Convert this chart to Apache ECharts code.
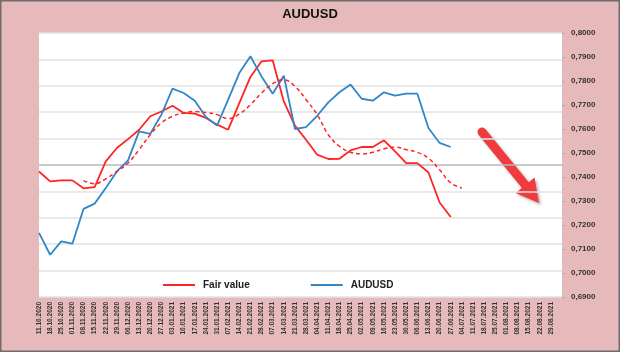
<!DOCTYPE html>
<html>
<head>
<meta charset="utf-8">
<title>AUDUSD</title>
<script src="https://cdn.jsdelivr.net/npm/echarts@6/dist/echarts.min.js"></script>
<style>
  html, body { margin: 0; padding: 0; }
  #main { width: 620px; height: 352px; }
</style>
</head>
<body>
<div id="main"></div>
<script>
// weekly dates
var dates = ['11.10.2020','18.10.2020','25.10.2020','01.11.2020','08.11.2020','15.11.2020','22.11.2020','29.11.2020',
  '06.12.2020','13.12.2020','20.12.2020','27.12.2020','03.01.2021','10.01.2021','17.01.2021','24.01.2021','31.01.2021',
  '07.02.2021','14.02.2021','21.02.2021','28.02.2021','07.03.2021','14.03.2021','21.03.2021','28.03.2021','04.04.2021',
  '11.04.2021','18.04.2021','25.04.2021','02.05.2021','09.05.2021','16.05.2021','23.05.2021','30.05.2021','06.06.2021',
  '13.06.2021','20.06.2021','27.06.2021','04.07.2021','11.07.2021','18.07.2021','25.07.2021','01.08.2021','08.08.2021',
  '15.08.2021','22.08.2021','29.08.2021'];

var fairValue = [0.7423,0.7382,0.7386,0.7386,0.7353,0.7358,0.7465,0.7521,0.7558,0.7597,0.7653,0.7673,0.7697,0.7667,
  0.7664,0.7646,0.7618,0.7597,0.7708,0.7817,0.7882,0.7886,0.7715,0.7614,0.7555,0.7493,0.7475,0.7476,0.7511,0.7525,
  0.7525,0.7553,0.7507,0.7458,0.7458,0.7419,0.7294,0.7233];

var audusd = [0.7167,0.7076,0.7132,0.7122,0.7267,0.7289,0.7354,0.7423,0.7469,0.7590,0.7580,0.7660,0.7768,0.7750,
  0.7718,0.7650,0.7614,0.7722,0.7833,0.7903,0.7819,0.7747,0.7822,0.7600,0.7608,0.7655,0.7711,0.7753,0.7785,0.7726,
  0.7718,0.7753,0.7739,0.7747,0.7747,0.7604,0.7542,0.7525];

// smoothed fair value (starts at 08.11.2020)
var fairTrend = [null,null,null,null,0.7385,0.7372,0.7392,0.7423,0.7458,0.7514,0.7576,0.7625,0.7653,0.7667,0.7673,
  0.7669,0.7660,0.7643,0.7662,0.7701,0.7750,0.7789,0.7805,0.7778,0.7722,0.7660,0.7576,0.7528,0.7503,0.7497,0.7503,
  0.7517,0.7525,0.7514,0.7503,0.7478,0.7430,0.7375,0.7354];

var yMin = 0.69, yMax = 0.80, yStep = 0.01;

var red = '#ff2424', blue = '#2f87c9';
var font = 'Liberation Sans';

// gridline colours, middle one darker
var gridColors = [];
for (var i = 0; i <= 10; i++) gridColors.push(i === 5 ? '#b9b9b9' : '#e2e2e2');

var chart = echarts.init(document.getElementById('main'));
chart.setOption({
  backgroundColor: '#e6b9bb',
  animation: false,
  title: {
    text: 'AUDUSD', left: 'center', top: 3,
    textStyle: { fontFamily: font, fontSize: 13, fontWeight: 'bold', color: '#111' }
  },
  grid: { left: 39, right: 58, top: 33, bottom: 55, show: true, backgroundColor: '#fff', borderWidth: 0 },
  legend: {
    data: ['Fair value', 'AUDUSD'],
    left: 163, top: 280, padding: 0, icon: 'rect', itemWidth: 32, itemHeight: 2, itemGap: 61,
    textStyle: { fontFamily: font, fontSize: 10, fontWeight: 'bold', color: '#222', padding: [0, 0, 0, 3] }
  },
  xAxis: {
    type: 'category', data: dates, boundaryGap: false, max: 47,
    axisLine: { show: false }, axisTick: { show: false },
    axisLabel: {
      interval: 0, rotate: 90, margin: 5,
      fontFamily: font, fontSize: 6.5, fontWeight: 'bold', color: '#333',
      formatter: function (v) { return v == null || v === 'undefined' ? '' : v; }
    },
    splitLine: { show: false }
  },
  yAxis: [{
    type: 'value', position: 'right', min: yMin, max: yMax, interval: yStep,
    axisLine: { show: false },
    axisTick: { show: true, length: 3, inside: false, lineStyle: { color: '#aaa' } },
    minorTick: { show: true, splitNumber: 2, length: 2, lineStyle: { color: '#bbb' } },
    axisLabel: {
      margin: 9, fontFamily: font, fontSize: 8, fontWeight: 'bold', color: '#333',
      formatter: function (v) { return v.toFixed(4).replace('.', ','); }
    },
    splitLine: { show: false }
  }, {
    type: 'value', position: 'left', min: 0, max: 10, interval: 1,
    axisLine: { show: false }, axisTick: { show: false }, axisLabel: { show: false },
    splitLine: { show: true, lineStyle: { color: gridColors, width: 1.5 } }
  }],
  series: [{
    name: 'Fair value', type: 'line', data: fairValue, yAxisIndex: 0,
    showSymbol: false, symbol: 'none', color: red,
    lineStyle: { color: red, width: 1.8 }
  }, {
    name: 'AUDUSD', type: 'line', data: audusd, yAxisIndex: 0,
    showSymbol: false, symbol: 'none', color: blue,
    lineStyle: { color: blue, width: 1.8 }
  }, {
    name: 'Fair value trend', type: 'line', data: fairTrend, yAxisIndex: 0,
    showSymbol: false, symbol: 'none', smooth: 0.4, color: red,
    lineStyle: { color: red, width: 1.5, type: [4, 3] }
  }],
  graphic: [{
    type: 'rect', z: 100, silent: true,
    shape: { x: 0.5, y: 0.5, width: 619, height: 351 },
    style: { fill: null, stroke: '#6e6e6e', lineWidth: 2 }
  }, {
    type: 'group', z: 100, silent: true,
    children: [{
      type: 'line',
      shape: { x1: 482, y1: 132, x2: 526, y2: 186 },
      style: { stroke: '#f03a3e', lineWidth: 9, lineCap: 'round',
        shadowColor: 'rgba(0,0,0,0.3)', shadowBlur: 3, shadowOffsetX: 2, shadowOffsetY: 2 }
    }, {
      type: 'polygon',
      shape: { points: [[539, 203], [534.5, 177.5], [515.5, 193]] },
      style: { fill: '#f03a3e', shadowColor: 'rgba(0,0,0,0.3)', shadowBlur: 3, shadowOffsetX: 2, shadowOffsetY: 2 }
    }]
  }]
});
</script>
</body>
</html>
